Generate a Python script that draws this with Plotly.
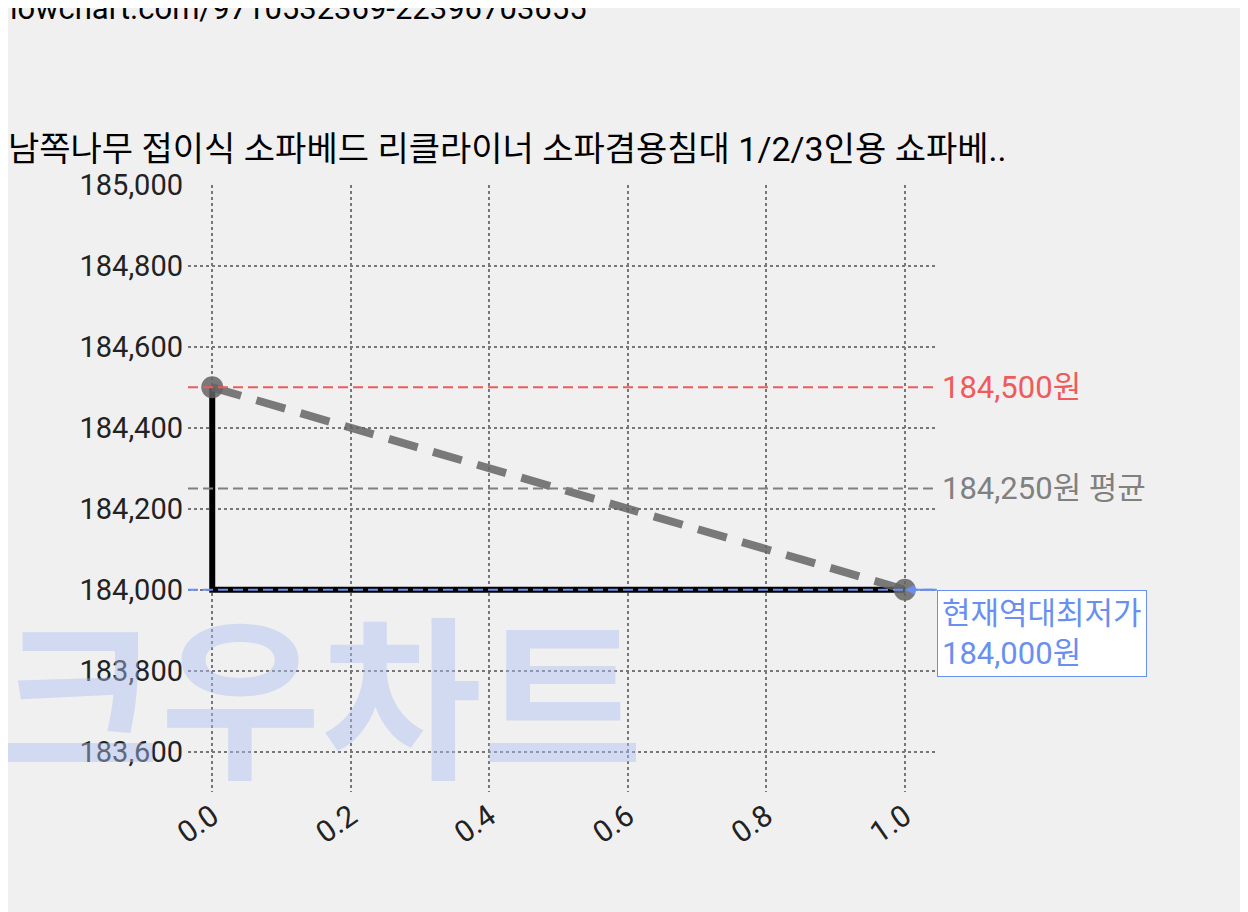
import plotly.graph_objects as go

x_vals = [0.0, 1.0]
prices = [184500, 184000]
max_price = 184500
avg_price = 184250
min_price = 184000
title = "남쪽나무 접이식 소파베드 리클라이너 소파겸용침대 1/2/3인용 쇼파베.."
url = "lowchart.com/9710532369-22396703655"

fig = go.Figure()
fig.add_trace(go.Scatter(x=[x_vals[0], x_vals[0], x_vals[1]], y=[prices[0], prices[1], prices[1]],
                         mode="lines", line=dict(color="black", width=6), hoverinfo="skip"))
fig.add_trace(go.Scatter(x=x_vals, y=prices, mode="lines+markers",
                         line=dict(color="rgba(100,100,100,0.85)", width=8, dash="30px,16px"),
                         marker=dict(size=22, color="rgba(100,100,100,0.85)")))
for val, col in [(max_price, "#f05a5a"), (avg_price, "#808080"), (min_price, "#6a8ff0")]:
    fig.add_shape(type="line", xref="paper", x0=0, x1=1, y0=val, y1=val,
                  line=dict(color=col, width=2, dash="10px,5px"))

fig.add_annotation(xref="paper", x=1.005, y=max_price, text=f"{max_price:,}원", showarrow=False,
                   xanchor="left", font=dict(size=31, color="#f05a5a"))
fig.add_annotation(xref="paper", x=1.005, y=avg_price, text=f"{avg_price:,}원 평균", showarrow=False,
                   xanchor="left", font=dict(size=31, color="#808080"))
fig.add_annotation(x=x_vals[1], y=min_price, ax=32, ay=0, text=f"현재역대최저가<br>{min_price:,}원",
                   showarrow=True, arrowhead=2, arrowcolor="#6a8ff0", arrowwidth=2,
                   xanchor="left", yanchor="top", align="left", font=dict(size=31, color="#6a8ff0"),
                   bgcolor="white", bordercolor="#6a8ff0", borderwidth=1, borderpad=4)
fig.add_annotation(xref="paper", yref="paper", x=-0.255, y=0.17, text="<b>크우차트</b>",
                   showarrow=False, xanchor="left", yanchor="middle",
                   font=dict(size=175, family="Noto Sans CJK KR", weight=900,
                             color="rgba(170,190,240,0.45)"))
fig.add_annotation(xref="paper", yref="paper", x=-0.24, y=1.29, text=url, showarrow=False,
                   xanchor="left", yanchor="middle", font=dict(size=31, color="black"))
fig.add_annotation(xref="paper", yref="paper", x=-0.243, y=1.06, text=title, showarrow=False,
                   xanchor="left", yanchor="middle", font=dict(size=34, color="black"))

fig.update_layout(
    width=1248, height=912, showlegend=False,
    paper_bgcolor="#f0f0f0", plot_bgcolor="#f0f0f0",
    margin=dict(l=180, r=320, t=177, b=128),
    font=dict(family="Roboto, Noto Sans CJK KR", size=24, color="#222"),
    xaxis=dict(range=[-0.035, 1.045], tickvals=[0, 0.2, 0.4, 0.6, 0.8, 1.0],
               ticktext=["0.0", "0.2", "0.4", "0.6", "0.8", "1.0"], tickangle=-35,
               showgrid=True, gridcolor="#777", griddash="dot", gridwidth=2, zeroline=False,
               tickfont=dict(size=30)),
    yaxis=dict(range=[183500, 185000], tickvals=list(range(183600, 185001, 200)),
               tickformat=",", showgrid=True, gridcolor="#777", griddash="dot", gridwidth=2,
               zeroline=False, tickfont=dict(size=29), ticklabelstandoff=4),
)
fig.write_html("out.html")
